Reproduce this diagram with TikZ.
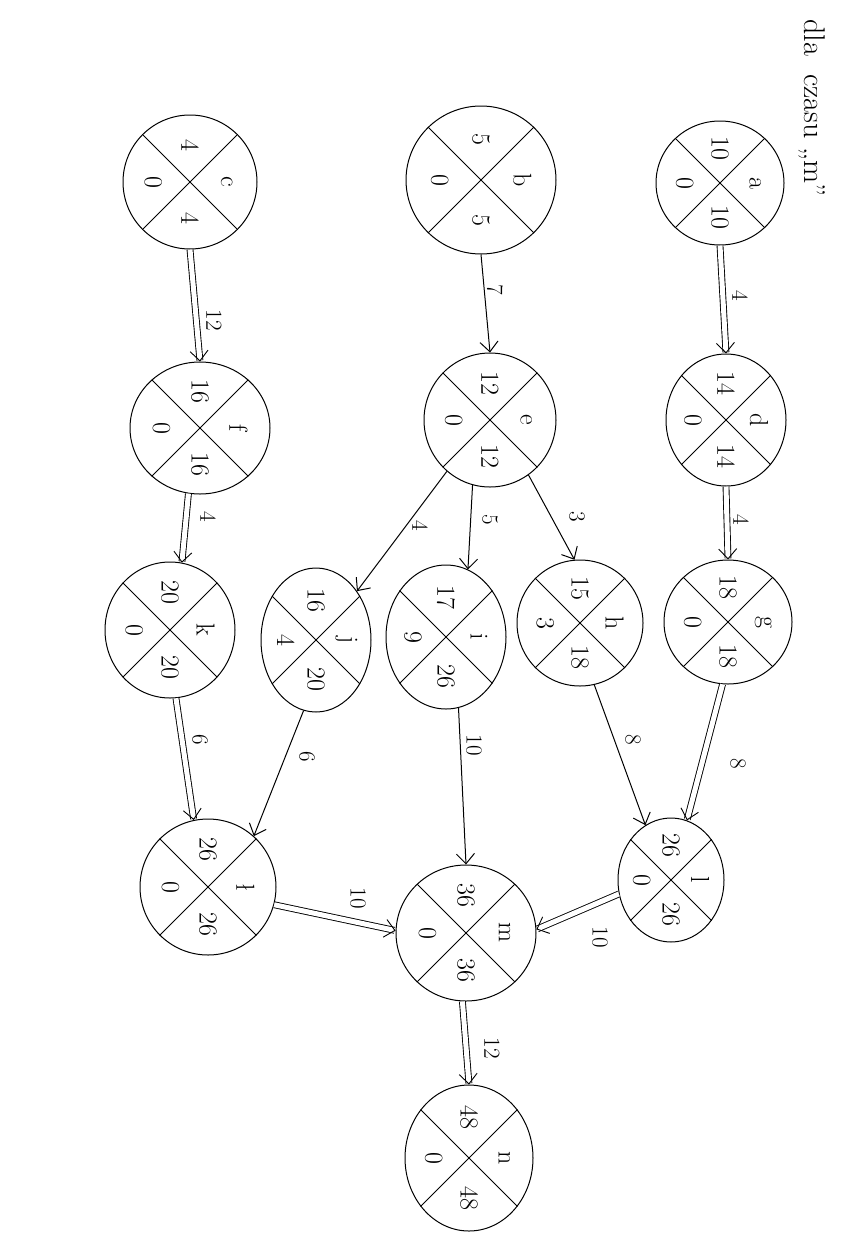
\documentclass[tikz,border=0pt]{standalone}
\usepackage{fontspec}
\usetikzlibrary{shapes.geometric,arrows.meta}
\tikzset{
  ev/.style={draw, ellipse, line width=1pt, inner sep=0pt},
  xline/.style={line width=0.9pt},
  lab/.style={rotate=-90, inner sep=0pt, font=\fontsize{26}{28}\selectfont},
  elab/.style={rotate=-90, inner sep=0pt, font=\fontsize{23}{25}\selectfont},
  sgl/.style={draw, line width=1pt, -{Straight Barb[length=10pt,width=18pt]}},
  dbl/.style={draw, line width=0.9pt, double distance=5pt, -{Straight Barb[length=10pt,width=18pt]}},
}
\newcommand{\evnode}[9]{%
  \node[ev, minimum width={2*#4pt}, minimum height={2*#5pt}] (#1) at (#2,#3) {};
  \draw[xline] (#1.135) -- (#1.-45) (#1.45) -- (#1.-135);
  \node[lab] at ([xshift={-0.55*#4pt}]#1.center) {#6};
  \node[lab] at ([yshift={0.55*#5pt}]#1.center) {#7};
  \node[lab] at ([xshift={0.55*#4pt}]#1.center) {#8};
  \node[lab] at ([yshift={-0.55*#5pt}]#1.center) {#9};
}
\begin{document}
\begin{tikzpicture}[x=1pt,y=-1pt]
\useasboundingbox (0,0) rectangle (843,1256);
\fill[white] (0,0) rectangle (843,1256);
% title
\node[rotate=-90, inner sep=0pt, font=\fontsize{30}{32}\selectfont] (title) at (812,108) {dla\ \ czasu „m”};
% events: name, x, y, rx, ry, slack(left), early(top), letter(right), late(bottom)
\evnode{c}{190}{182}{67}{67}{0}{4}{c}{4}
\evnode{b}{481}{180}{75}{74}{0}{5}{b}{5}
\evnode{a}{720}{183}{64}{62}{0}{10}{a}{10}
\evnode{f}{200}{428}{70}{66}{0}{16}{f}{16}
\evnode{e}{490}{420}{66}{67}{0}{12}{e}{12}
\evnode{d}{726}{420}{60}{66}{0}{14}{d}{14}
\evnode{k}{170}{630}{65}{68}{0}{20}{k}{20}
\evnode{j}{316}{640}{55}{72}{4}{16}{j}{20}
\evnode{i}{446}{637}{60}{72}{9}{17}{i}{26}
\evnode{h}{580}{623}{63}{63}{3}{15}{h}{18}
\evnode{g}{728}{622}{64}{62}{0}{18}{g}{18}
\evnode{lw}{208}{887}{68}{68}{0}{26}{ł}{26}
\evnode{m}{466}{933}{70}{68}{0}{36}{m}{36}
\evnode{l}{671}{880}{53}{62}{0}{26}{l}{26}
\evnode{n}{469}{1158}{64}{73}{0}{48}{n}{48}
% activities
\draw[dbl] (c.south) -- (f.north);
\draw[sgl] (b.south) -- (e.north);
\draw[dbl] (a.south) -- (d.north);
\draw[dbl] (f.-100) -- (k.80);
\draw[sgl] (e.-130) -- (j.50);
\draw[sgl] (e.-105) -- (i.72);
\draw[sgl] (e.-55) -- (h.95);
\draw[dbl] (d.south) -- (g.north);
\draw[dbl] (k.-85) -- (lw.102);
\draw[sgl] (j.-100) -- (lw.48);
\draw[sgl] (i.-80) -- (m.north);
\draw[sgl] (h.-77) -- (l.115);
\draw[dbl] (g.-95) -- (l.75);
\draw[dbl] (lw.-15) -- (m.178);
\draw[dbl] (l.-165) -- (m.3);
\draw[dbl] (m.-93) -- (n.north);
% activity durations
\node[elab] (t1) at (214,320) {12};
\node[elab] (t2) at (495,290) {7};
\node[elab] (t3) at (740,296) {4};
\node[elab] (t4) at (208,517) {4};
\node[elab] (t5) at (420,526) {4};
\node[elab] (t6) at (490,520) {5};
\node[elab] (t7) at (577,517) {3};
\node[elab] (t8) at (741,520) {4};
\node[elab] (t9) at (200,740) {6};
\node[elab] (t10) at (307,757) {6};
\node[elab] (t11) at (474,745) {10};
\node[elab] (t12) at (633,740) {8};
\node[elab] (t13) at (738,764) {8};
\node[elab] (t14) at (358,898) {10};
\node[elab] (t15) at (600,937) {10};
\node[elab] (t16) at (492,1048) {12};
\end{tikzpicture}
\end{document}
